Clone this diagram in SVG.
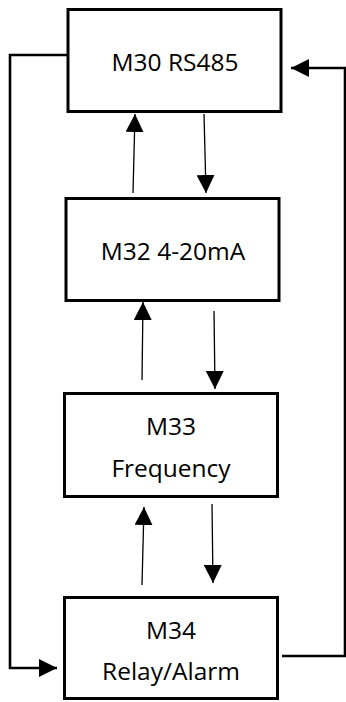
<svg xmlns="http://www.w3.org/2000/svg" width="346" height="702" viewBox="0 0 346 702">
<style>
.box{fill:#fff;stroke:#000;stroke-width:3}
.t{font-family:"Open Sans","Liberation Sans",sans-serif;font-size:24.5px;fill:#000;text-anchor:middle}
.c{stroke:#000;stroke-width:1.3;fill:none}
.loop{stroke:#000;stroke-width:2.6;fill:none}
</style>
<defs>
<marker id="ah" markerUnits="userSpaceOnUse" markerWidth="18" markerHeight="18" viewBox="0 0 16 16" refX="16" refY="8" orient="auto">
<path d="M0,0 L16,8 L0,16 Z" fill="#000"/>
</marker>
</defs>
<rect width="346" height="702" fill="#fff"/>
<g id="connectors">
<line class="c" x1="133" y1="193" x2="135" y2="114" marker-end="url(#ah)"/>
<line class="c" x1="204" y1="114" x2="206" y2="193" marker-end="url(#ah)"/>
<line class="c" x1="142" y1="380" x2="143" y2="302" marker-end="url(#ah)"/>
<line class="c" x1="214" y1="311" x2="215" y2="389" marker-end="url(#ah)"/>
<line class="c" x1="142" y1="585" x2="144" y2="507" marker-end="url(#ah)"/>
<line class="c" x1="212" y1="504" x2="213" y2="583" marker-end="url(#ah)"/>
<polyline class="loop" points="68,55 10,55 10,668 57,668" marker-end="url(#ah)"/>
<polyline class="loop" points="282,656 345,656 345,68 291,68" marker-end="url(#ah)"/>
</g>
<g id="m30">
<rect class="box" x="68" y="9.5" width="213" height="102"/>
<text class="t" x="175" y="71">M30 RS485</text>
</g>
<g id="m32">
<rect class="box" x="66" y="198.5" width="213" height="102"/>
<text class="t" x="173" y="260">M32 4-20mA</text>
</g>
<g id="m33">
<rect class="box" x="64.5" y="393.5" width="213" height="103"/>
<text class="t" x="171" y="435">M33</text>
<text class="t" x="171" y="477">Frequency</text>
</g>
<g id="m34">
<rect class="box" x="64.5" y="597.5" width="213" height="101"/>
<text class="t" x="171" y="639">M34</text>
<text class="t" x="171" y="680">Relay/Alarm</text>
</g>
</svg>
